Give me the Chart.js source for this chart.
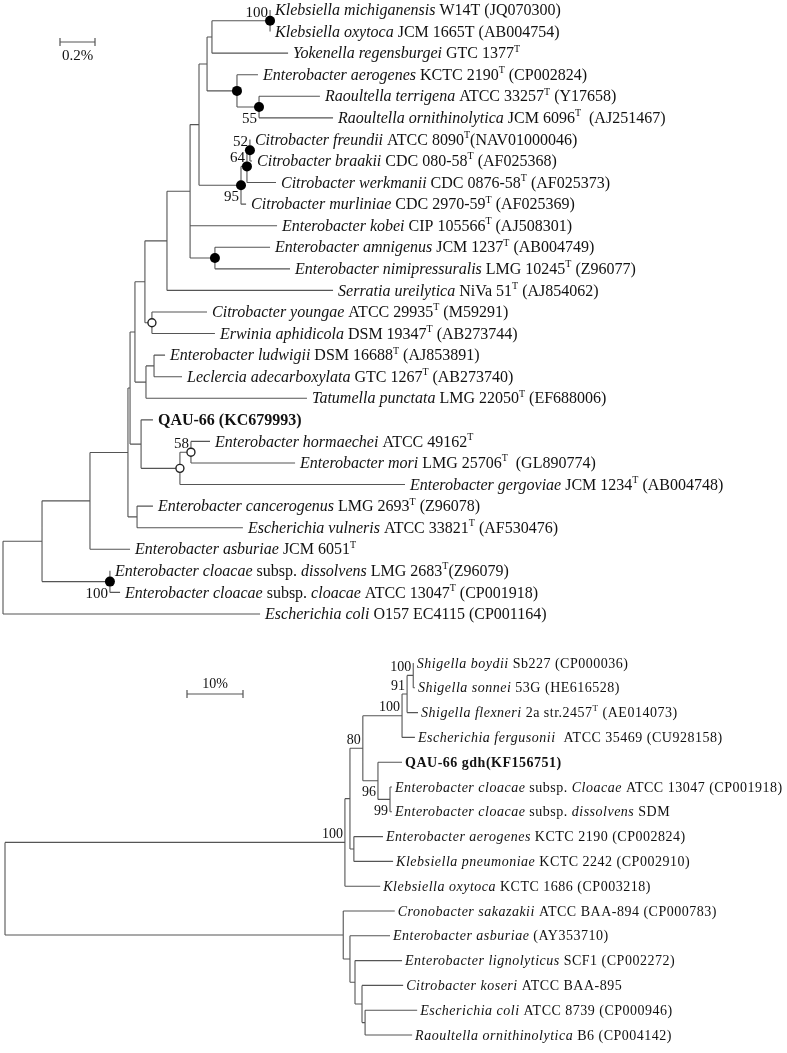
<!DOCTYPE html>
<html lang="en">
<head>
<meta charset="UTF-8">
<title>Phylogenetic trees</title>
<script src="https://cdn.jsdelivr.net/npm/chart.js"></script>
<style>
  html, body { margin: 0; padding: 0; background: #fff; }
  #wrap { position: relative; width: 787px; height: 1053px; }
  #top { position: absolute; left: 0; top: 0; }
  #bottom { position: absolute; left: 0; top: 630px; }
</style>
</head>
<body>
<div id="wrap">
  <canvas id="top" width="787" height="630"></canvas>
  <canvas id="bottom" width="787" height="423"></canvas>
</div>
<script>
// ---- top tree (16S rRNA), distances in % ----
// label markup: i: italic, r: regular, b: bold, s: superscript
const topLabels = [
  'i:Klebsiella michiganensis|r: W14T (JQ070300)',
  'i:Klebsiella oxytoca|r: JCM 1665T (AB004754)',
  'i:Yokenella regensburgei|r: GTC 1377|s:T',
  'i:Enterobacter aerogenes|r: KCTC 2190|s:T|r: (CP002824)',
  'i:Raoultella terrigena|r: ATCC 33257|s:T|r: (Y17658)',
  'i:Raoultella ornithinolytica|r: JCM 6096|s:T|r:  (AJ251467)',
  'i:Citrobacter freundii|r: ATCC 8090|s:T|r:(NAV01000046)',
  'i:Citrobacter braakii|r: CDC 080-58|s:T|r: (AF025368)',
  'i:Citrobacter werkmanii|r: CDC 0876-58|s:T|r: (AF025373)',
  'i:Citrobacter murliniae|r: CDC 2970-59|s:T|r: (AF025369)',
  'i:Enterobacter kobei|r: CIP 105566|s:T|r: (AJ508301)',
  'i:Enterobacter amnigenus|r: JCM 1237|s:T|r: (AB004749)',
  'i:Enterobacter nimipressuralis|r: LMG 10245|s:T|r: (Z96077)',
  'i:Serratia ureilytica|r: NiVa 51|s:T|r: (AJ854062)',
  'i:Citrobacter youngae|r: ATCC 29935|s:T|r: (M59291)',
  'i:Erwinia aphidicola|r: DSM 19347|s:T|r: (AB273744)',
  'i:Enterobacter ludwigii|r: DSM 16688|s:T|r: (AJ853891)',
  'i:Leclercia adecarboxylata|r: GTC 1267|s:T|r: (AB273740)',
  'i:Tatumella punctata|r: LMG 22050|s:T|r: (EF688006)',
  'b:QAU-66 (KC679993)',
  'i:Enterobacter hormaechei|r: ATCC 49162|s:T',
  'i:Enterobacter mori|r: LMG 25706|s:T|r:  (GL890774)',
  'i:Enterobacter gergoviae|r: JCM 1234|s:T|r: (AB004748)',
  'i:Enterobacter cancerogenus|r: LMG 2693|s:T|r: (Z96078)',
  'i:Escherichia vulneris|r: ATCC 33821|s:T|r: (AF530476)',
  'i:Enterobacter asburiae|r: JCM 6051|s:T',
  'i:Enterobacter cloacae|r: subsp. |i:dissolvens|r: LMG 2683|s:T|r:(Z96079)',
  'i:Enterobacter cloacae|r: subsp. |i:cloacae|r: ATCC 13047|s:T|r: (CP001918)',
  'i:Escherichia coli|r: O157 EC4115 (CP001164)'
];
const topTipDepth = [1.526, 1.526, 1.629, 1.457, 1.811, 1.886, 1.411, 1.423, 1.560, 1.389,
  1.566, 1.526, 1.640, 1.886, 1.166, 1.211, 0.926, 1.023, 1.737, 0.857,
  1.183, 1.669, 2.297, 0.857, 1.371, 0.726, 0.611, 0.669, 1.469];
// internal nodes, children listed before parents ('nK' = node K, number = leaf)
const topNodeKids = [
  [0, 1], ['n0', 2], [4, 5], [3, 'n2'], ['n1', 'n3'],
  [6, 7], ['n5', 8], ['n6', 9], ['n4', 'n7'], [11, 12],
  ['n8', 10, 'n9'], ['n10', 13], [14, 15], ['n11', 'n12'], [16, 17],
  ['n14', 18], ['n13', 'n15'], [20, 21], ['n17', 22], [19, 'n18'],
  ['n16', 'n19'], [23, 24], ['n20', 'n21'], ['n22', 25], [26, 27],
  ['n23', 'n24'], ['n25', 28]
];
const topNodeDepth = [1.526, 1.194, 1.463, 1.337, 1.166, 1.411, 1.394, 1.360, 1.120, 1.211,
  1.069, 0.937, 0.851, 0.811, 0.863, 0.817, 0.754, 1.074, 1.011, 0.789,
  0.726, 0.766, 0.714, 0.497, 0.611, 0.223, 0];
const topBootNodes = ['n0', 'n2', 'n5', 'n6', 'n7', 'n17', 'n24'];
const topBootValues = ['100', '55', '52', '64', '95', '58', '100'];
const topFilledDots = ['n0', 'n3', 'n2', 'n5', 'n6', 'n7', 'n9', 'n24'];
const topOpenDots = ['n12', 'n17', 'n18'];
const topScaleBar = 0.2;
const topScaleText = '0.2%';

// ---- bottom tree (gdh), distances in % ----
const bottomLabels = [
  'i:Shigella boydii|r: Sb227 (CP000036)',
  'i:Shigella sonnei|r: 53G (HE616528)',
  'i:Shigella flexneri|r: 2a str.2457|s:T|r: (AE014073)',
  'i:Escherichia fergusonii|r:  ATCC 35469 (CU928158)',
  'b:QAU-66 gdh(KF156751)',
  'i:Enterobacter cloacae|r: subsp. |i:Cloacae|r: ATCC 13047 (CP001918)',
  'i:Enterobacter cloacae|r: subsp. |i:dissolvens|r: SDM',
  'i:Enterobacter aerogenes|r: KCTC 2190 (CP002824)',
  'i:Klebsiella pneumoniae|r: KCTC 2242 (CP002910)',
  'i:Klebsiella oxytoca|r: KCTC 1686 (CP003218)',
  'i:Cronobacter sakazakii|r: ATCC BAA-894 (CP000783)',
  'i:Enterobacter asburiae|r: (AY353710)',
  'i:Enterobacter lignolyticus|r: SCF1 (CP002272)',
  'i:Citrobacter koseri|r: ATCC BAA-895',
  'i:Escherichia coli|r: ATCC 8739 (CP000946)',
  'i:Raoultella ornithinolytica|r: B6 (CP004142)'
];
const bottomTipDepth = [73.0, 73.2, 73.75, 73.2, 70.9, 69.1, 69.1, 67.5, 69.3, 67.0,
  69.6, 68.75, 70.9, 71.1, 73.6, 72.7];
const bottomNodeKids = [
  [0, 1], ['n0', 2], ['n1', 3], [5, 6], [4, 'n3'],
  ['n2', 'n4'], [7, 8], ['n5', 'n6'], ['n7', 9], [14, 15],
  [13, 'n9'], [12, 'n10'], [11, 'n11'], [10, 'n12'], ['n8', 'n13']
];
const bottomNodeDepth = [72.9, 71.8, 70.9, 68.75, 66.6, 63.9, 62.3, 61.6, 60.7, 64.3,
  63.75, 62.5, 61.6, 60.4, 0];
const bottomBootNodes = ['n0', 'n1', 'n2', 'n5', 'n4', 'n3', 'n8'];
const bottomBootValues = ['100', '91', '100', '80', '96', '99', '100'];
const bottomScaleBar = 10;
const bottomScaleText = '10%';

const SERIF = '"Liberation Serif", "Times New Roman", serif';
const LINE = '#555';

function layoutTree(tipDepth, nodeKids, nodeDepth) {
  const nodeY = [];
  const pos = ref => typeof ref === 'number'
    ? { x: tipDepth[ref], y: ref }
    : { x: nodeDepth[+ref.slice(1)], y: nodeY[+ref.slice(1)] };
  const segs = [];
  nodeKids.forEach((kids, i) => {
    const ks = kids.map(pos);
    const ys = ks.map(k => k.y);
    const y0 = Math.min(...ys), y1 = Math.max(...ys);
    nodeY[i] = (ks[0].y + ks[ks.length - 1].y) / 2;
    const x = nodeDepth[i];
    segs.push({ x, y: y0 }, { x, y: y1 }, { x: null, y: null });
    ks.forEach(k => segs.push({ x, y: k.y }, { x: k.x, y: k.y }, { x: null, y: null }));
  });
  return { segs, pos };
}

function drawRich(ctx, x, y, spec, size, spacing) {
  ctx.letterSpacing = spacing + 'px';
  spec.split('|').forEach(part => {
    const kind = part.slice(0, 1), txt = part.slice(2);
    let font = size + 'px ' + SERIF, dy = 0;
    if (kind === 'i') font = 'italic ' + font;
    if (kind === 'b') font = 'bold ' + font;
    if (kind === 's') { font = Math.round(size * 0.62) + 'px ' + SERIF; dy = -size * 0.32; }
    ctx.font = font;
    ctx.fillText(txt, x, y + dy);
    x += ctx.measureText(txt).width;
  });
  ctx.letterSpacing = '0px';
}

function makeTree(canvasId, o) {
  const tree = layoutTree(o.tips, o.kids, o.depth);
  const dots = refs => refs.map(tree.pos);
  const textPlugin = {
    id: 'treeText',
    afterDatasetsDraw(chart) {
      const ctx = chart.ctx, xs = chart.scales.x, ys = chart.scales.y;
      ctx.save();
      ctx.fillStyle = '#111';
      ctx.textBaseline = 'middle';
      ctx.textAlign = 'left';
      o.labels.forEach((lab, i) => {
        drawRich(ctx, xs.getPixelForValue(o.tips[i]) + o.gap, ys.getPixelForValue(i) + 1, lab, o.size, o.spacing);
      });
      // bootstrap values
      ctx.font = o.bootSize + 'px ' + SERIF;
      ctx.textAlign = 'right';
      o.bootNodes.forEach((ref, i) => {
        const p = tree.pos(ref);
        const px = xs.getPixelForValue(p.x), py = ys.getPixelForValue(p.y);
        const below = o.bootBelow.includes(ref);
        ctx.fillText(o.bootValues[i], px - 2, py + (below ? 12 : -8));
      });
      // scale bar
      const len = xs.getPixelForValue(o.bar) - xs.getPixelForValue(0);
      const bx = o.barAt[0], by = o.barAt[1];
      ctx.strokeStyle = LINE;
      ctx.lineWidth = 1.2;
      ctx.beginPath();
      ctx.moveTo(bx, by); ctx.lineTo(bx + len, by);
      ctx.moveTo(bx, by - 4); ctx.lineTo(bx, by + 4);
      ctx.moveTo(bx + len, by - 4); ctx.lineTo(bx + len, by + 4);
      ctx.stroke();
      ctx.textAlign = 'center';
      ctx.font = o.bootSize + 'px ' + SERIF;
      ctx.fillText(o.barText, bx + len / 2, by + o.barTextDy);
      ctx.restore();
    }
  };
  return new Chart(document.getElementById(canvasId), {
    type: 'scatter',
    data: {
      datasets: [
        { data: dots(o.filled), pointRadius: 5, backgroundColor: '#000', borderColor: '#000', borderWidth: 0, order: 0 },
        { data: dots(o.open), pointRadius: 4, backgroundColor: '#fff', borderColor: '#222', borderWidth: 1.4, order: 0 },
        { data: tree.segs, showLine: true, spanGaps: false, pointRadius: 0, borderColor: LINE, borderWidth: 1.1, order: 1 }
      ]
    },
    options: {
      responsive: false,
      animation: false,
      devicePixelRatio: 1,
      layout: { padding: 0, autoPadding: false },
      events: [],
      plugins: { legend: { display: false }, tooltip: { enabled: false } },
      scales: {
        x: { type: 'linear', display: false, min: o.xMin, max: o.xMax },
        y: { type: 'linear', display: false, reverse: true, min: o.yMin, max: o.yMax }
      }
    },
    plugins: [textPlugin]
  });
}

// top: root at 3px, 175px per 1%; rows start at 10px, 21.57px apart
makeTree('top', {
  labels: topLabels, tips: topTipDepth, kids: topNodeKids, depth: topNodeDepth,
  bootNodes: topBootNodes, bootValues: topBootValues, bootBelow: ['n2', 'n7', 'n24'],
  filled: topFilledDots, open: topOpenDots,
  bar: topScaleBar, barText: topScaleText, barAt: [60, 42], barTextDy: 14,
  size: 16, spacing: 0, bootSize: 15, gap: 5,
  xMin: -3 / 175, xMax: 784 / 175, yMin: -10 / 21.57, yMax: 620 / 21.57
});

// bottom: root at 5px, 5.6px per 1%; rows start at 33px, 24.8px apart
makeTree('bottom', {
  labels: bottomLabels, tips: bottomTipDepth, kids: bottomNodeKids, depth: bottomNodeDepth,
  bootNodes: bottomBootNodes, bootValues: bottomBootValues, bootBelow: ['n4', 'n3'],
  filled: [], open: [],
  bar: bottomScaleBar, barText: bottomScaleText, barAt: [187, 64], barTextDy: -10,
  size: 14, spacing: 0.5, bootSize: 14, gap: 3,
  xMin: -5 / 5.6, xMax: 782 / 5.6, yMin: -33 / 24.8, yMax: 390 / 24.8
});
</script>
</body>
</html>
